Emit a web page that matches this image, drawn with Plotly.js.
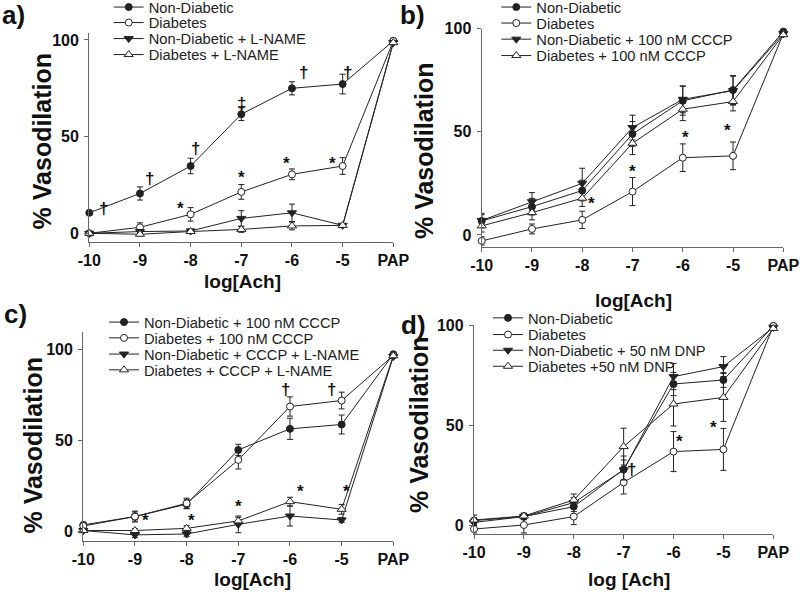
<!DOCTYPE html>
<html>
<head>
<meta charset="utf-8">
<script src="https://cdn.plot.ly/plotly-3.0.1.min.js"></script>
<style>
  html, body { margin: 0; padding: 0; background: #fff; }
  #fig { width: 800px; height: 596px; }
</style>
</head>
<body>
<div id="fig"></div>
<script>
// dose axis (log molar Ach, then papaverine)
const doseLabels = ['-10', '-9', '-8', '-7', '-6', '-5', 'PAP'];

// a) L-NAME
const aNames = ['Non-Diabetic', 'Diabetes', 'Non-Diabetic + L-NAME', 'Diabetes + L-NAME'];
const aNonDiab = [10.6, 20.6, 34.8, 61.6, 75.0, 77.2, 99.5];
const aNonDiabErr = [1.2, 3.4, 4.0, 3.3, 3.4, 5.1, 0.8];
const aDiab = [0, 3.1, 9.8, 21.4, 30.5, 34.8, 99.5];
const aDiabErr = [1.0, 2.3, 3.5, 3.8, 2.8, 4.3, 0.8];
const aNonDiabLN = [0, 0.9, 1.2, 7.7, 10.6, 4.1, 98.6];
const aNonDiabLNErr = [0.8, 1.0, 1.0, 4.0, 4.5, 1.0, 1.0];
const aDiabLN = [0, -0.5, 0.9, 2.0, 3.8, 4.1, 98.6];
const aDiabLNErr = [0.5, 0.6, 0.8, 1.5, 2.0, 1.0, 1.0];

// b) CCCP
const bNames = ['Non-Diabetic', 'Diabetes', 'Non-Diabetic + 100 nM CCCP', 'Diabetes + 100 nM CCCP'];
const bNonDiab = [6.8, 13.7, 21.5, 48.9, 65.0, 70.2, 98.5];
const bNonDiabErr = [3.0, 4.0, 5.0, 6.0, 7.0, 7.0, 1.0];
const bDiab = [-2.9, 2.9, 7.3, 21.0, 37.4, 38.3, 97.5];
const bDiabErr = [2.0, 2.4, 4.2, 6.8, 6.7, 6.7, 1.0];
const bNonDiabCCCP = [7.0, 16.1, 25.0, 52.0, 65.7, 69.9, 97.5];
const bNonDiabCCCPErr = [3.5, 4.4, 7.3, 6.0, 6.5, 7.0, 1.0];
const bDiabCCCP = [4.4, 10.8, 17.8, 44.4, 60.9, 64.6, 97.0];
const bDiabCCCPErr = [3.0, 3.5, 4.0, 5.5, 5.5, 4.5, 1.0];

// c) CCCP + L-NAME
const cNames = ['Non-Diabetic + 100 nM CCCP', 'Diabetes + 100 nM CCCP', 'Non-Diabetic + CCCP + L-NAME', 'Diabetes + CCCP + L-NAME'];
const cNonDiabCCCP = [3.6, 8.2, 15.0, 44.9, 56.5, 58.9, 97.6];
const cNonDiabCCCPErr = [1.5, 2.5, 2.5, 3.1, 5.8, 5.2, 1.0];
const cDiabCCCP = [3.0, 8.2, 15.5, 39.4, 68.8, 72.1, 96.9];
const cDiabCCCPErr = [1.5, 3.0, 2.8, 5.0, 5.3, 4.6, 1.0];
const cNonDiabLN = [0.5, -1.9, -1.4, 3.9, 8.5, 6.3, 96.3];
const cNonDiabLNErr = [1.0, 1.5, 1.5, 4.6, 5.5, 1.3, 1.0];
const cDiabLN = [0.5, 0.5, 1.7, 5.8, 16.4, 12.2, 96.7];
const cDiabLNErr = [1.0, 1.0, 1.5, 2.0, 2.4, 2.7, 1.0];

// d) DNP
const dNames = ['Non-Diabetic', 'Diabetes', 'Non-Diabetic + 50 nM DNP', 'Diabetes +50 nM DNP'];
const dNonDiab = [2.2, 4.2, 9.2, 27.8, 70.5, 72.5, 99.5];
const dNonDiabErr = [1.5, 1.5, 2.5, 6.7, 5.8, 3.7, 1.0];
const dDiab = [-2.0, 0, 4.2, 21.3, 36.7, 37.8, 99.5];
const dDiabErr = [2.0, 4.0, 4.0, 5.8, 10.0, 10.5, 1.0];
const dNonDiabDNP = [1.3, 4.2, 11.2, 27.5, 74.2, 79.2, 98.8];
const dNonDiabDNPErr = [1.5, 1.5, 2.5, 5.0, 6.5, 5.0, 1.0];
const dDiabDNP = [2.5, 4.5, 12.5, 39.2, 60.5, 63.8, 98.3];
const dDiabDNPErr = [2.5, 1.5, 3.0, 9.2, 11.0, 12.0, 1.0];

// significance marks: [dose position, % vasodilation, symbol]
const aMarks = [[0.29, 12.9, '†'], [1.18, 28.3, '†'], [2.09, 43.7, '†'], [3.0, 66.9, '‡'], [4.23, 83.2, '†'], [5.1, 83.2, '†'],
                [1.8, 12.9, '*'], [3.0, 28.6, '*'], [3.9, 36, '*'], [4.8, 36, '*']];
const bMarks = [[2.19, 15.2, '*'], [3.0, 30.6, '*'], [4.06, 47.4, '*'], [4.89, 50.6, '*']];
const cMarks = [[3.91, 78.2, '†'], [4.8, 78.2, '†'], [1.2, 6.0, '*'], [2.1, 6.0, '*'], [3.0, 14.0, '*'], [4.2, 21.9, '*'], [5.1, 21.9, '*']];
const dMarks = [[3.16, 28, '†'], [4.11, 41.9, '*'], [4.8, 49, '*']];

const W = 800, H = 596;
const ink = '#222';
const fontFam = 'Liberation Sans, Arial, sans-serif';

// filled circle, open circle, filled down-triangle, open up-triangle
const markerStyles = [
  {symbol: 'circle', size: 7, color: ink, line: {color: ink, width: 1}},
  {symbol: 'circle', size: 7, color: '#fff', line: {color: ink, width: 1}},
  {symbol: 'triangle-down', size: 8, color: ink, line: {color: ink, width: 1}},
  {symbol: 'triangle-up', size: 8, color: '#fff', line: {color: ink, width: 1}}
];

//panel setup: axes pixel boxes, y range, legend spot, title spots
const panels = [
  {ax: '', names: aNames, ys: [aNonDiab, aDiab, aNonDiabLN, aDiabLN], errs: [aNonDiabErr, aDiabErr, aNonDiabLNErr, aDiabLNErr],
   marks: aMarks, px: [89.3, 393.3], py: [33, 241.7], yr: [-4.35, 103.6], leg: [108.7, [7.5, 23, 39, 55]],
   xt: 'log[Ach]', xtPos: [242, 281], ytPos: [41.7, 141.7], tag: 'a)', tagPos: [13, 15]},
  {ax: '2', names: bNames, ys: [bNonDiab, bDiab, bNonDiabCCCP, bDiabCCCP], errs: [bNonDiabErr, bDiabErr, bNonDiabCCCPErr, bDiabCCCPErr],
   marks: bMarks, px: [481.7, 783.3], py: [28.5, 246.7], yr: [-5.7, 100], leg: [496.3, [7.5, 23.5, 39.6, 56]],
   xt: 'log[Ach]', xtPos: [633, 300], ytPos: [424, 151], tag: 'b)', tagPos: [412, 15]},
  {ax: '3', names: cNames, ys: [cNonDiabCCCP, cDiabCCCP, cNonDiabLN, cDiabLN], errs: [cNonDiabCCCPErr, cDiabCCCPErr, cNonDiabLNErr, cDiabLNErr],
   marks: cMarks, px: [83.3, 393.3], py: [331.7, 540.7], yr: [-5.1, 110], leg: [104, [322.5, 338.3, 354.5, 370.3]],
   xt: 'log[Ach]', xtPos: [253, 579], ytPos: [32.5, 446], tag: 'c)', tagPos: [15, 314]},
  {ax: '4', names: dNames, ys: [dNonDiab, dDiab, dNonDiabDNP, dDiabDNP], errs: [dNonDiabErr, dDiabErr, dNonDiabDNPErr, dDiabDNPErr],
   marks: dMarks, px: [474, 773.3], py: [325, 534], yr: [-4.5, 100], leg: [488, [318.3, 335, 350.7, 366.7]],
   xt: 'log [Ach]', xtPos: [629, 579], ytPos: [419, 425], tag: 'd)', tagPos: [414, 325]}
];

var data = [];
var annotations = [];
var layout = {
  width: W, height: H,
  margin: {l: 0, r: 0, t: 0, b: 0, autoexpand: false},
  paper_bgcolor: '#fff', plot_bgcolor: '#fff',
  font: {family: fontFam, color: ink},
  showlegend: true
};

function paperText(pos, text, size, angle) {
  return {
    x: pos[0] / W, y: 1 - pos[1] / H, xref: 'paper', yref: 'paper',
    xanchor: 'center', yanchor: 'middle',
    text: text, showarrow: false, textangle: angle || 0,
    font: {family: fontFam, size: size, color: '#111', weight: 'bold'}
  };
}

var legendCount = 0;
panels.forEach(function(p) {
  var xname = 'x' + p.ax, yname = 'y' + p.ax;
  p.ys.forEach(function(ys, i) {
    legendCount++;
    var legId = legendCount === 1 ? 'legend' : 'legend' + legendCount;
    data.push({
      x: doseLabels, y: ys,
      xaxis: xname, yaxis: yname,
      type: 'scatter', mode: 'lines+markers',
      name: p.names[i],
      legend: legId,
      line: {color: ink, width: 1},
      marker: markerStyles[i],
      error_y: {type: 'data', array: p.errs[i], color: ink, thickness: 1, width: 3},
      cliponaxis: false
    });
    layout[legId] = {
      x: p.leg[0] / W, y: 1 - p.leg[1][i] / H,
      xanchor: 'left', yanchor: 'middle',
      bgcolor: 'rgba(0,0,0,0)', borderwidth: 0,
      font: {family: fontFam, size: 14.7, color: ink}
    };
  });

  layout['xaxis' + p.ax] = {
    domain: [p.px[0] / W, p.px[1] / W],
    anchor: yname,
    type: 'category', categoryarray: doseLabels, range: [0, 6],
    showline: true, linecolor: '#666', linewidth: 1.2,
    ticks: 'outside', ticklen: 4, tickcolor: '#666',
    ticklabelstandoff: 0,
    showgrid: false, zeroline: false, fixedrange: true,
    tickfont: {family: fontFam, size: 16, color: '#111', weight: 'bold'}
  };
  layout['yaxis' + p.ax] = {
    domain: [1 - p.py[1] / H, 1 - p.py[0] / H],
    anchor: xname,
    range: p.yr, tickvals: [0, 50, 100],
    showline: true, linecolor: '#666', linewidth: 1.2,
    ticks: 'outside', ticklen: 4, tickcolor: '#666',
    ticklabelstandoff: 2,
    showgrid: false, zeroline: false, fixedrange: true,
    tickfont: {family: fontFam, size: 16, color: '#111', weight: 'bold'}
  };

  p.marks.forEach(function(m) {
    annotations.push({
      x: m[0], y: m[1], xref: xname, yref: yname,
      xanchor: 'center', yanchor: 'middle',
      text: m[2], showarrow: false,
      font: {family: fontFam, size: 17, color: '#111', weight: 'bold'}
    });
  });

  // axis titles and panel letter
  annotations.push(paperText(p.xtPos, p.xt, 19));
  annotations.push(paperText(p.ytPos, '% Vasodilation', 25, -90));
  annotations.push(paperText(p.tagPos, p.tag, 26));
});

layout.annotations = annotations;

Plotly.newPlot('fig', data, layout, {displayModeBar: false, staticPlot: true});
</script>
</body>
</html>
